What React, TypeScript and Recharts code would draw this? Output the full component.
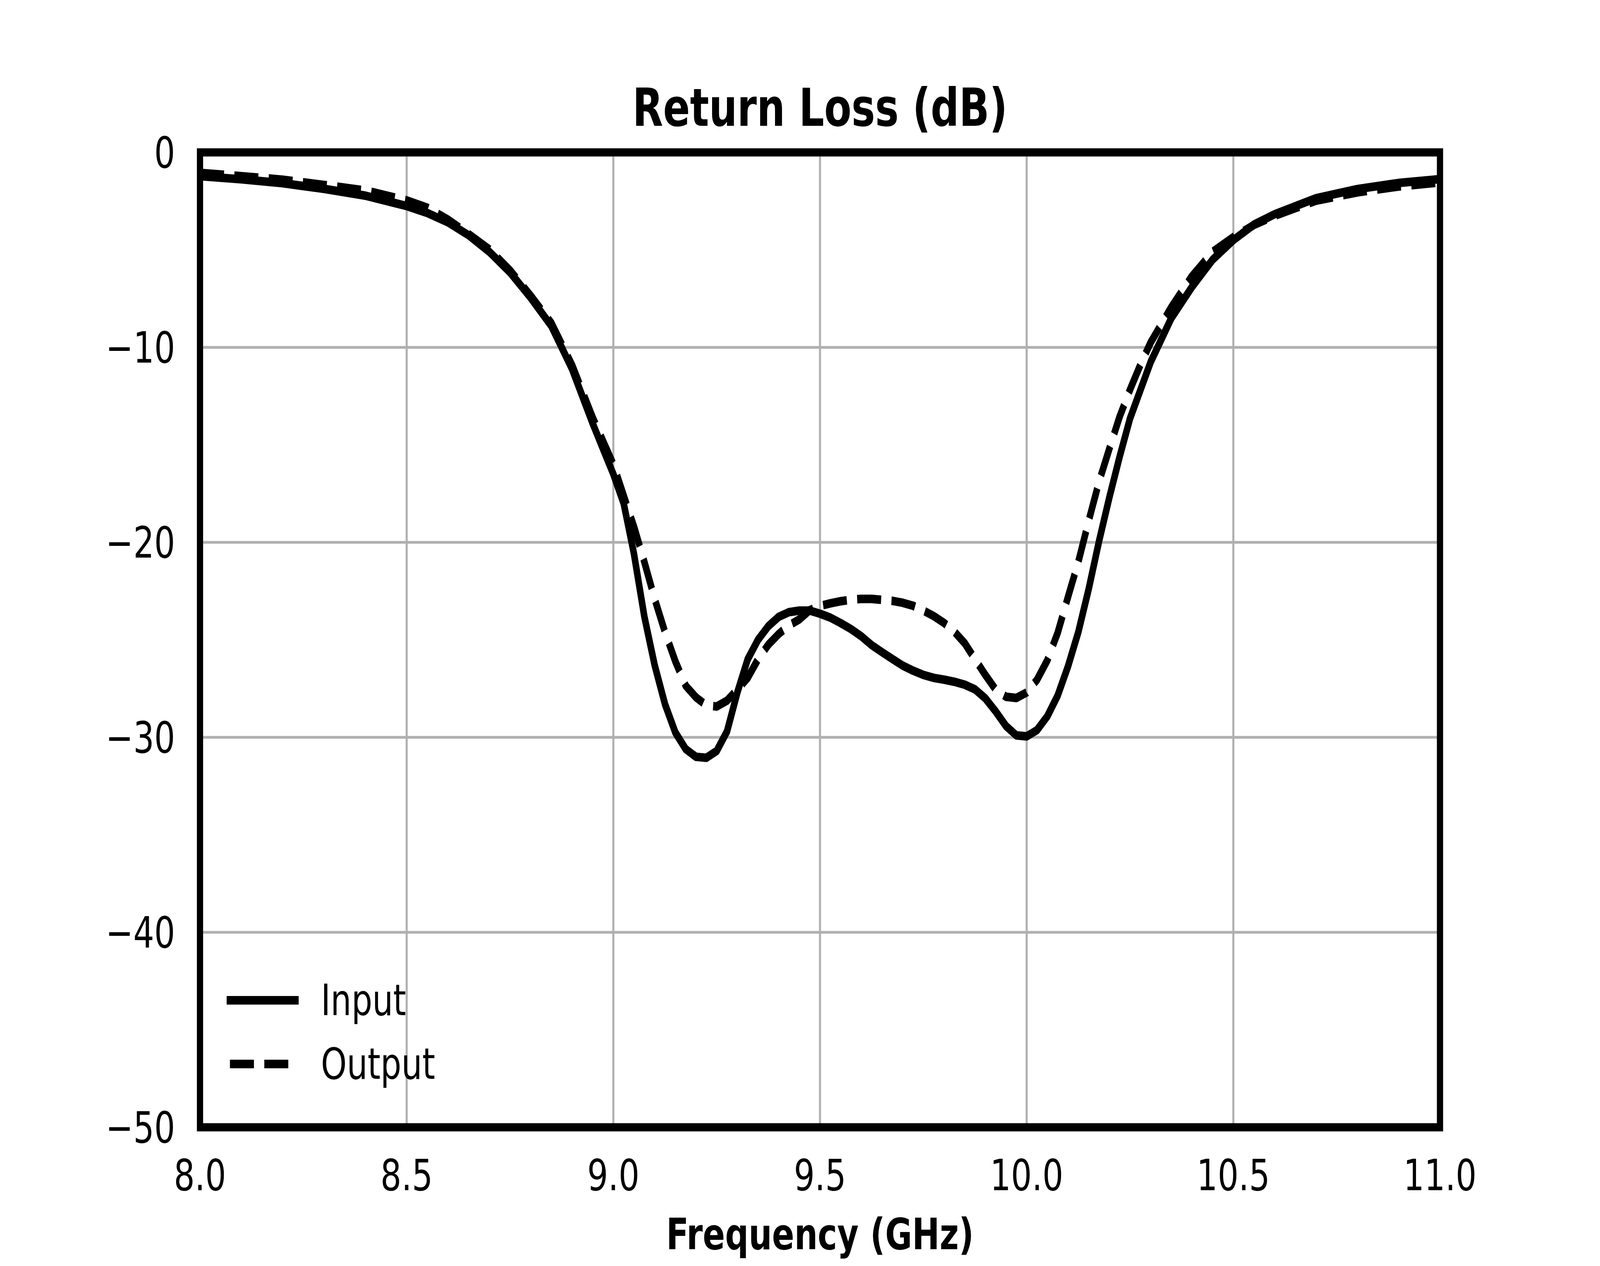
import React from 'react';
import { LineChart, Line, XAxis, YAxis, CartesianGrid, Legend, ReferenceArea } from 'recharts';

const FONT = 'DejaVu Sans';
const CHART_W = 5400;
const CHART_H = 3240;

// frequency points (GHz)
const freq = [
  8.0, 8.1, 8.2, 8.3, 8.4, 8.5, 8.55, 8.6, 8.65, 8.7, 8.75, 8.8, 8.85, 8.9, 8.95, 9.0,
  9.025, 9.05, 9.075, 9.1, 9.125, 9.15, 9.175, 9.2, 9.225, 9.25, 9.275, 9.3, 9.325, 9.35, 9.375, 9.4, 9.425, 9.45, 9.475, 9.5,
  9.525, 9.55, 9.575, 9.6, 9.625, 9.65, 9.675, 9.7, 9.725, 9.75, 9.775, 9.8, 9.825, 9.85, 9.875, 9.9, 9.925, 9.95, 9.975, 10.0,
  10.025, 10.05, 10.075, 10.1, 10.125, 10.15, 10.175, 10.2, 10.225, 10.25, 10.275, 10.3,
  10.35, 10.4, 10.45, 10.5, 10.55, 10.6, 10.65, 10.7, 10.8, 10.9, 11.0,
];

// input return loss (dB)
const inputDb = [
  -1.22, -1.38, -1.58, -1.87, -2.22, -2.75, -3.11, -3.59, -4.25, -5.1, -6.15, -7.45, -8.9, -11.1, -13.9, -16.5,
  -18.0, -20.6, -23.8, -26.3, -28.3, -29.75, -30.6, -31.0, -31.05, -30.7, -29.7, -27.7, -26.0, -25.0, -24.3, -23.82, -23.58, -23.5, -23.5, -23.66,
  -23.86, -24.14, -24.45, -24.82, -25.27, -25.63, -25.98, -26.32, -26.58, -26.8, -26.95, -27.04, -27.15, -27.3, -27.54, -28.0, -28.67, -29.42, -29.9, -29.95,
  -29.63, -28.92, -27.86, -26.36, -24.6, -22.4, -19.95, -17.7, -15.6, -13.65, -12.2, -10.75,
  -8.5, -6.9, -5.5, -4.5, -3.7, -3.17, -2.76, -2.35, -1.88, -1.57, -1.37,
];

// output return loss (dB)
const outputDb = [
  -1.05, -1.22, -1.4, -1.67, -1.95, -2.46, -2.84, -3.45, -4.19, -4.97, -6.05, -7.35, -8.75, -10.9, -13.6, -16.0,
  -17.6, -19.2, -21.0, -22.9, -24.6, -26.1, -27.35, -27.95, -28.36, -28.42, -28.12, -27.55, -26.95, -26.0, -25.25, -24.7, -24.26, -23.95, -23.48, -23.26,
  -23.13, -23.02, -22.94, -22.9, -22.9, -22.95, -23.0, -23.1, -23.25, -23.5, -23.78, -24.13, -24.58, -25.17, -25.99, -26.8, -27.55, -27.92, -27.98, -27.7,
  -27.05, -26.05, -24.64, -22.8, -21.0, -18.9, -16.9, -15.2, -13.55, -12.17, -10.9, -9.75,
  -7.94, -6.35, -5.1, -4.35, -3.72, -3.25, -2.86, -2.48, -2.05, -1.75, -1.54,
];

const xTicks = [8.0, 8.5, 9.0, 9.5, 10.0, 10.5, 11.0];
const yTicks = [-50, -40, -30, -20, -10, 0];

const SERIES = [
  { key: 'input', name: 'Input', dash: undefined as string | undefined },
  { key: 'output', name: 'Output', dash: '81 35' },
];

const data = freq.map((f, i) => ({ freq: f, input: inputDb[i], output: outputDb[i] }));

const fmtY = (v: number) => (v < 0 ? `\u2212${Math.abs(v)}` : `${v}`);

const LegendBox = ({ payload }: any) => (
  <div style={{ fontFamily: FONT, fontSize: 111, color: '#000' }}>
    {(payload || []).map((entry: any) => {
      const s = SERIES.find((x) => x.name === entry.value);
      return (
        <div key={entry.value} style={{ display: 'flex', alignItems: 'center', height: 163 }}>
          <svg width={260} height={40} style={{ display: 'block' }}>
            <line
              x1={16}
              x2={237}
              y1={20}
              y2={20}
              stroke="#000"
              strokeWidth={22}
              strokeDasharray={s?.dash}
              strokeLinecap={s?.dash ? 'butt' : 'square'}
            />
          </svg>
          <span style={{ marginLeft: 63, lineHeight: '111px' }}>{entry.value}</span>
        </div>
      );
    })}
  </div>
);

export default function App() {
  // the window can be narrower than the chart; squeeze it so the whole figure stays visible
  const vw = typeof window !== 'undefined' ? window.innerWidth : CHART_W;
  const sx = Math.min(1, vw / CHART_W);

  return (
    <div style={{ position: 'absolute', left: 0, top: 0, width: CHART_W * sx, height: CHART_H, overflow: 'hidden', background: '#fff' }}>
      <div style={{ width: CHART_W, height: CHART_H, transform: `scale(${sx}, 1)`, transformOrigin: '0 0' }}>
        <LineChart
          width={CHART_W}
          height={CHART_H}
          data={data}
          margin={{ top: 390, right: 540, left: 75, bottom: 25 }}
          style={{ fontFamily: FONT }}
        >
          <CartesianGrid stroke="#b0b0b0" strokeWidth={7} />
          <XAxis
            dataKey="freq"
            type="number"
            domain={[8, 11]}
            ticks={xTicks}
            interval={0}
            height={330}
            axisLine={false}
            tickLine={false}
            tickSize={0}
            tickMargin={82}
            tickFormatter={(v: number) => v.toFixed(1)}
            tick={{ fill: '#000', fontSize: 111, fontFamily: FONT }}
            label={{
              value: 'Frequency (GHz)',
              position: 'insideBottom',
              offset: 18,
              fill: '#000',
              fontSize: 111,
              fontWeight: 'bold',
              fontFamily: FONT,
            }}
          />
          <YAxis
            type="number"
            domain={[-50, 0]}
            ticks={yTicks}
            interval={0}
            width={600}
            axisLine={false}
            tickLine={false}
            tickSize={0}
            tickMargin={84}
            tickFormatter={fmtY}
            tick={{ fill: '#000', fontSize: 111, fontFamily: FONT }}
          />
          {SERIES.map((s) => (
            <Line
              key={s.key}
              type="linear"
              dataKey={s.key}
              name={s.name}
              stroke="#000"
              strokeWidth={22}
              strokeDasharray={s.dash}
              strokeLinejoin="round"
              strokeLinecap="butt"
              dot={false}
              activeDot={false}
              isAnimationActive={false}
            />
          ))}
          <ReferenceArea
            x1={8}
            x2={11}
            y1={-50}
            y2={0}
            fill="none"
            fillOpacity={0}
            stroke="#000"
            strokeWidth={21}
            label={{
              value: 'Return Loss (dB)',
              position: 'top',
              offset: 68,
              fill: '#000',
              fontSize: 134,
              fontWeight: 'bold',
              fontFamily: FONT,
            }}
          />
          <Legend
            layout="vertical"
            align="center"
            verticalAlign="middle"
            content={<LegendBox />}
            wrapperStyle={{ left: 760, top: 2478, width: 'auto', height: 'auto', margin: 0 }}
          />
        </LineChart>
      </div>
    </div>
  );
}
